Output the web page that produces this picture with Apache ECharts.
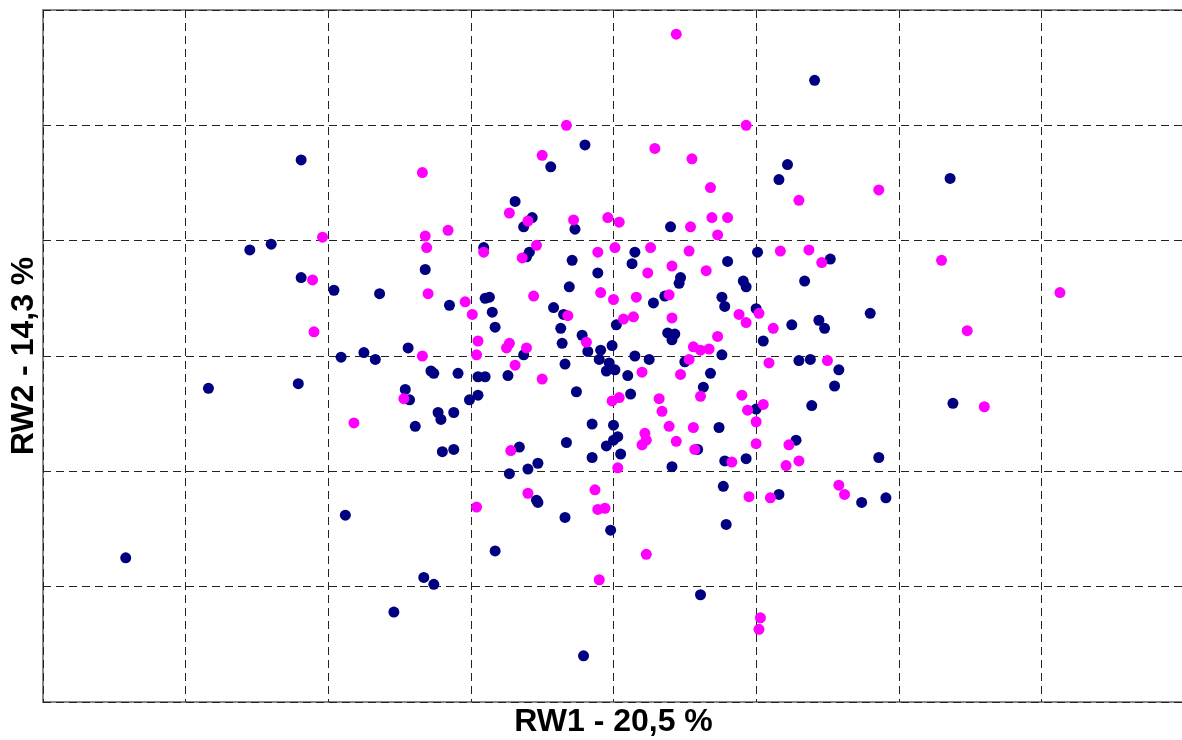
<!DOCTYPE html>
<html>
<head>
<meta charset="utf-8">
<script src="https://cdn.jsdelivr.net/npm/echarts@6/dist/echarts.min.js"></script>
<style>
html,body{margin:0;padding:0;background:#fff;overflow:hidden;}
#chart{width:1186px;height:740px;}
</style>
</head>
<body>
<div id="chart"></div>
<script>
// Axis titles
const xTitle = 'RW1 - 20,5 %';
const yTitle = 'RW2 - 14,3 %';

// Group 1 (navy) scores [RW1, RW2]
const groupNavy = [
[-2.19,1.70],[-2.40,0.97],[-2.55,0.92],[-2.19,0.68],[-1.96,0.57],[-1.91,-0.01],[-2.84,-0.28],[-2.21,-0.24],[-3.42,-1.75],
[-0.20,1.83],[-0.44,1.64],[-0.69,1.34],[-0.57,1.20],[-0.63,1.12],[-0.27,1.10],[-0.91,0.94],[-0.59,0.90],[-0.61,0.86],[-0.29,0.83],[0.13,0.80],
[-1.32,0.75],[-0.11,0.72],[-1.64,0.54],[-0.31,0.60],[-1.15,0.44],[-0.90,0.50],[-0.87,0.51],[-0.85,0.38],[-0.83,0.25],[-0.42,0.42],
[-0.35,0.36],[-0.37,0.24],[-0.36,0.11],[-0.22,0.18],[-0.18,0.04],[-0.09,0.05],[-0.10,-0.03],[-0.01,0.09],[0.02,0.27],[-0.03,-0.06],
[-0.05,-0.13],[0.01,-0.12],[0.10,-0.17],[-0.34,-0.07],[-0.63,0.01],[-0.74,-0.17],[-0.95,-0.18],[-0.90,-0.18],[-0.95,-0.34],[-1.01,-0.38],
[-1.09,-0.15],[-1.28,-0.13],[-1.26,-0.15],[-1.44,0.07],[-1.75,0.03],[-1.67,-0.03],[-1.46,-0.29],[-1.43,-0.38],[-1.39,-0.61],[-1.23,-0.49],
[-1.21,-0.55],[-1.12,-0.49],[-1.20,-0.83],[-1.12,-0.81],[-0.26,-0.31],[-0.15,-0.59],[0.00,-0.60],[0.03,-0.70],[0.00,-0.73],[-0.05,-0.78],
[-0.33,-0.75],[0.05,-0.85],[-0.15,-0.88],[-0.66,-0.79],[-0.53,-0.93],[-0.60,-0.98],[-0.73,-1.02],[-0.54,-1.25],[-0.53,-1.27],[-1.88,-1.38],
[-0.34,-1.40],[-0.02,-1.51],[-0.83,-1.69],[-1.33,-1.92],[-1.26,-1.98],[-1.54,-2.22],[-0.21,-2.60],[0.77,-1.13],[1.16,-1.20],[1.74,-1.27],
[1.91,-1.23],[0.79,-1.46],[0.61,-2.07],[0.15,0.90],[1.01,0.90],[1.52,0.84],[0.80,0.82],[0.47,0.68],[0.46,0.63],[0.91,0.65],
[0.93,0.60],[1.34,0.65],[0.36,0.52],[0.28,0.46],[0.76,0.51],[0.78,0.43],[1.00,0.41],[1.80,0.37],[1.44,0.31],[1.48,0.24],
[1.25,0.27],[1.05,0.13],[0.38,0.20],[0.43,0.19],[0.41,0.14],[0.76,0.01],[0.15,0.00],[0.25,-0.03],[0.50,-0.05],[0.68,-0.15],
[1.30,-0.04],[1.38,-0.03],[1.58,-0.12],[1.55,-0.26],[0.63,-0.27],[0.12,-0.33],[1.00,-0.46],[1.39,-0.43],[0.74,-0.62],[0.59,-0.81],
[0.41,-0.96],[0.78,-0.91],[0.93,-0.89],[1.28,-0.73],[1.86,-0.88],[1.41,2.39],[1.22,1.66],[1.16,1.53],[0.40,1.12],[2.36,1.54],[2.38,-0.41]
];

// Group 2 (magenta) scores [RW1, RW2]
const groupMagenta = [
[-2.04,1.03],[-2.11,0.66],[-2.10,0.21],[-0.33,2.00],[-0.50,1.74],[-1.34,1.59],[-0.73,1.24],[-0.60,1.17],[-0.28,1.18],[-0.04,1.20],
[0.04,1.16],[-1.16,1.09],[-1.32,1.04],[-1.31,0.94],[-0.91,0.90],[-0.54,0.96],[-0.64,0.85],[-0.11,0.90],[0.01,0.94],[-1.30,0.54],
[-0.56,0.52],[-0.09,0.55],[0.00,0.49],[-1.04,0.47],[-0.99,0.36],[-0.32,0.35],[-0.19,0.12],[0.07,0.32],[-0.95,0.13],[-0.96,0.01],
[-0.75,0.07],[-0.73,0.11],[-0.61,0.07],[-0.69,-0.08],[-0.50,-0.20],[-1.34,0.00],[-1.47,-0.37],[-1.82,-0.58],[-0.01,-0.39],[0.04,-0.36],
[0.03,-0.97],[-0.72,-0.82],[-0.60,-1.19],[-0.96,-1.31],[-0.13,-1.16],[-0.11,-1.33],[-0.06,-1.32],[-0.10,-1.94],[0.95,-1.22],[1.10,-1.23],
[1.58,-1.12],[1.62,-1.20],[0.23,-1.72],[1.03,-2.27],[1.02,-2.37],[0.26,0.94],[0.53,0.91],[1.17,0.91],[1.37,0.92],[1.46,0.81],
[0.24,0.72],[0.41,0.78],[0.65,0.74],[0.39,0.53],[0.16,0.51],[1.02,0.37],[0.88,0.36],[0.93,0.29],[0.14,0.34],[0.41,0.33],
[1.12,0.24],[0.73,0.17],[0.56,0.08],[0.61,0.05],[0.67,0.06],[0.53,-0.03],[0.20,-0.14],[0.47,-0.16],[1.09,-0.06],[1.50,-0.04],
[0.61,-0.35],[0.32,-0.37],[0.34,-0.48],[0.90,-0.34],[1.05,-0.42],[0.94,-0.47],[1.00,-0.57],[0.39,-0.61],[0.56,-0.62],[0.22,-0.67],
[0.23,-0.73],[0.20,-0.77],[0.44,-0.74],[0.57,-0.81],[0.83,-0.92],[1.00,-0.76],[1.23,-0.77],[1.30,-0.91],[1.21,-0.95],[0.44,2.79],
[0.93,2.00],[0.29,1.80],[0.55,1.71],[1.86,1.44],[1.30,1.35],[0.68,1.46],[0.69,1.20],[0.80,1.20],[0.54,1.12],[0.73,1.05],
[2.30,0.83],[3.13,0.55],[2.48,0.22],[2.60,-0.44]
];

const chart = echarts.init(document.getElementById('chart'), null, {renderer: 'canvas'});
const nameStyle = {fontFamily: 'Liberation Sans, Arial, sans-serif', fontWeight: 'bold', fontSize: 32, color: '#000'};
const gridLine = {show: true, lineStyle: {color: '#222', width: 1, type: [8, 5]}};
chart.setOption({
  animation: false,
  backgroundColor: '#fff',
  grid: {left: 43, top: 10, width: 1141, height: 692, outerBoundsMode: 'none', containLabel: false,
         show: true, borderColor: '#888', borderWidth: 2, backgroundColor: 'transparent'},
  xAxis: {
    type: 'value', min: -4, max: 4, interval: 1,
    name: xTitle, nameLocation: 'middle', nameGap: 4, nameTextStyle: Object.assign({verticalAlign: 'top'}, nameStyle),
    axisLine: {show: false}, axisTick: {show: false}, axisLabel: {show: false},
    splitLine: gridLine
  },
  yAxis: {
    type: 'value', min: -3, max: 3, interval: 1,
    name: yTitle, nameLocation: 'middle', nameGap: 3, nameRotate: 90, nameTextStyle: nameStyle,
    axisLine: {show: false}, axisTick: {show: false}, axisLabel: {show: false},
    splitLine: gridLine
  },
  series: [
    {type: 'scatter', data: groupNavy, symbol: 'circle', symbolSize: 11, itemStyle: {color: '#000080', opacity: 1}},
    {type: 'scatter', data: groupMagenta, symbol: 'circle', symbolSize: 11, itemStyle: {color: '#ff00ff', opacity: 1}}
  ]
});
</script>
</body>
</html>
